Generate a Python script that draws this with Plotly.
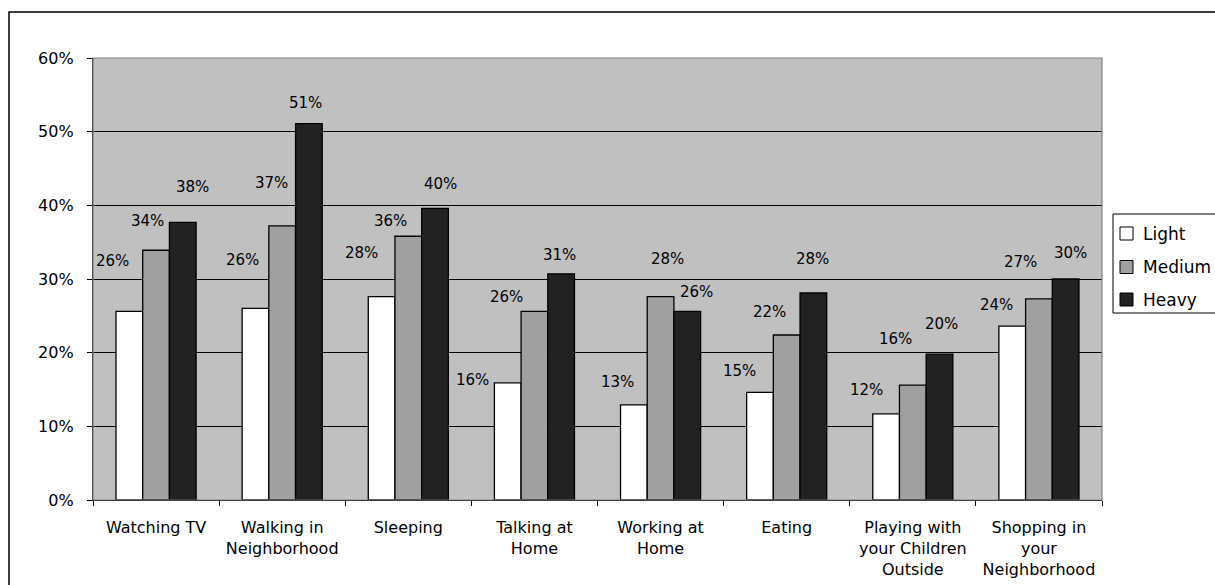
import plotly.graph_objects as go

# ---- data -------------------------------------------------------------
categories = [
    "Watching TV",
    "Walking in<br>Neighborhood",
    "Sleeping",
    "Talking at<br>Home",
    "Working at<br>Home",
    "Eating",
    "Playing with<br>your Children<br>Outside",
    "Shopping in<br>your<br>Neighborhood",
]
series_names = ["Light", "Medium", "Heavy"]
light = [0.256, 0.260, 0.276, 0.159, 0.129, 0.146, 0.117, 0.236]
medium = [0.339, 0.372, 0.358, 0.256, 0.276, 0.224, 0.156, 0.273]
heavy = [0.377, 0.511, 0.396, 0.307, 0.256, 0.281, 0.198, 0.300]
y_ticks = [0, 0.1, 0.2, 0.3, 0.4, 0.5, 0.6]

# ---- styling ----------------------------------------------------------
series_values = [light, medium, heavy]
series_colors = ["#FFFFFF", "#A0A0A0", "#222222"]
FONT = "DejaVu Sans"

# label nudges (pixels) relative to the top centre of each bar
label_dx = [
    [-17, -13, -20, -35, -16, -20, -20, -16],
    [-9, -11, -18, -28, 7, -17, -17, -18],
    [10, -3, 5, -2, 9, -1, 2, 5],
]
label_dy = [
    [50, 48, 44, 3, 23, 21, 24, 21],
    [29, 43, 15, 14, 38, 23, 46, 37],
    [35, 21, 24, 19, 19, 34, 30, 26],
]

W, H = 1215, 585
ML, MR, MT, MB = 93, 113, 58, 85
PW, PH = W - ML - MR, H - MT - MB
BARGAP = 0.365


def px_x(px):
    return (px - ML) / PW


def px_y(py):
    return (H - MB - py) / PH


fig = go.Figure()
for name, vals, col in zip(series_names, series_values, series_colors):
    fig.add_trace(
        go.Bar(
            name=name,
            x=categories,
            y=vals,
            marker=dict(color=col, line=dict(color="#000000", width=1.3)),
            showlegend=False,
        )
    )

# value labels
cat_w = PW / len(categories)
bar_w = cat_w * (1 - BARGAP) / len(series_names)
annotations = []
for s, vals in enumerate(series_values):
    off = (s - 1) * bar_w
    for i, v in enumerate(vals):
        annotations.append(
            dict(
                x=categories[i],
                y=v,
                xref="x",
                yref="y",
                text=f"{v:.0%}",
                showarrow=False,
                xanchor="center",
                yanchor="middle",
                xshift=off + label_dx[s][i],
                yshift=label_dy[s][i],
                font=dict(family=FONT, size=15, color="#000000"),
            )
        )

# legend drawn by hand
shapes = []
leg_centers = [233.5, 267, 299.5]
for name, col, cy in zip(series_names, series_colors, leg_centers):
    shapes.append(
        dict(
            type="rect",
            xref="paper",
            yref="paper",
            x0=px_x(1120),
            x1=px_x(1133),
            y0=px_y(cy + 6.5),
            y1=px_y(cy - 6.5),
            fillcolor=col,
            line=dict(color="#000000", width=1),
        )
    )
    annotations.append(
        dict(
            x=px_x(1141),
            y=px_y(cy),
            xref="paper",
            yref="paper",
            text=name,
            showarrow=False,
            xanchor="left",
            yanchor="middle",
            font=dict(family=FONT, size=17, color="#000000"),
        )
    )
shapes.append(
    dict(
        type="rect",
        xref="paper",
        yref="paper",
        x0=px_x(1113),
        x1=px_x(1250),
        y0=px_y(313),
        y1=px_y(214),
        line=dict(color="#000000", width=1),
        fillcolor="rgba(0,0,0,0)",
    )
)
# plot area border (top / right)
shapes.append(
    dict(
        type="rect",
        xref="paper",
        yref="paper",
        x0=0,
        x1=1,
        y0=0,
        y1=1,
        line=dict(color="#808080", width=1.2),
        fillcolor="rgba(0,0,0,0)",
        layer="above",
    )
)
# chart frame
shapes.append(
    dict(
        type="rect",
        xref="paper",
        yref="paper",
        x0=px_x(9),
        x1=px_x(1260),
        y0=px_y(620),
        y1=px_y(12),
        line=dict(color="#000000", width=1.5),
        fillcolor="rgba(0,0,0,0)",
    )
)

fig.update_layout(
    width=W,
    height=H,
    margin=dict(l=ML, r=MR, t=MT, b=MB, autoexpand=False),
    paper_bgcolor="#FFFFFF",
    plot_bgcolor="#C0C0C0",
    barmode="group",
    bargap=BARGAP,
    bargroupgap=0,
    showlegend=False,
    annotations=annotations,
    shapes=shapes,
    font=dict(family=FONT, size=16, color="#000000"),
)
fig.update_xaxes(
    type="category",
    showline=True,
    linecolor="#000000",
    linewidth=1.3,
    ticks="outside",
    tickson="boundaries",
    ticklen=5,
    tickcolor="#000000",
    showgrid=False,
    tickfont=dict(family=FONT, size=16, color="#000000"),
    ticklabelstandoff=13,
)
fig.update_yaxes(
    range=[0, 0.6],
    tickvals=y_ticks,
    tickformat=".0%",
    showline=True,
    linecolor="#000000",
    linewidth=1.3,
    ticks="outside",
    ticklen=5,
    tickcolor="#000000",
    showgrid=True,
    gridcolor="#000000",
    gridwidth=1,
    zeroline=False,
    tickfont=dict(family=FONT, size=16, color="#000000"),
    ticklabelstandoff=10,
)

fig.write_html("out.html")
